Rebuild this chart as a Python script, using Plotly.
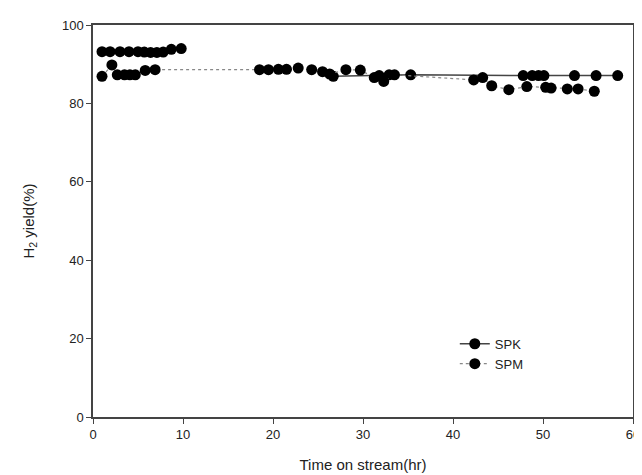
import plotly.graph_objects as go

# SPK (solid) - gap between early and later run
spk_t = [1.0, 1.9, 3.0, 4.0, 5.0, 5.7, 6.4, 7.1, 7.8, 8.7, 9.8, None,
         26.7, 31.8, 32.9, 35.3, 47.8, 48.8, 49.5, 50.1, 53.5, 55.9, 58.3]
spk_y = [93.2, 93.2, 93.2, 93.2, 93.2, 93.1, 93.0, 93.0, 93.1, 93.8, 94.0, None,
         86.9, 87.1, 87.3, 87.3, 87.1, 87.1, 87.1, 87.1, 87.1, 87.1, 87.1]

# SPM (dotted)
spm_t = [1.0, 2.1, 2.7, 3.5, 4.1, 4.7, 5.8, 6.9,
         18.5, 19.5, 20.6, 21.5, 22.8, 24.3, 25.5, 26.3, 28.1, 29.7,
         31.25, 32.3, 33.5, 42.3, 43.3, 44.3, 46.2, 48.2, 50.3, 50.9, 52.7, 53.9, 55.7]
spm_y = [86.9, 89.8, 87.3, 87.3, 87.3, 87.3, 88.4, 88.6,
         88.6, 88.6, 88.7, 88.7, 89.0, 88.6, 88.1, 87.5, 88.6, 88.5,
         86.6, 85.6, 87.3, 86.0, 86.6, 84.5, 83.5, 84.3, 84.1, 83.9, 83.7, 83.7, 83.1]

fig = go.Figure()
fig.add_trace(go.Scatter(x=spk_t, y=spk_y, name="SPK", mode="lines+markers",
                         connectgaps=False,
                         line=dict(color="#444444", width=1.5, dash="solid"),
                         marker=dict(color="black", size=11)))
fig.add_trace(go.Scatter(x=spm_t, y=spm_y, name="SPM", mode="lines+markers",
                         line=dict(color="#888888", width=1.2, dash="dot"),
                         marker=dict(color="black", size=11)))

axis_style = dict(showline=True, mirror=True, linecolor="#444444", linewidth=1.5,
                  ticks="outside", ticklen=5, tickcolor="#444444", showgrid=False,
                  zeroline=False, tickfont=dict(size=13, color="#222222"))

fig.update_layout(
    width=642, height=475,
    margin=dict(l=85, r=10, t=15, b=66),
    paper_bgcolor="white", plot_bgcolor="white",
    font=dict(family="Liberation Sans, Arial, sans-serif", color="#222222"),
    showlegend=True,
    legend=dict(x=0.67, y=0.225, xanchor="left", yanchor="top",
                bgcolor="rgba(0,0,0,0)", font=dict(size=13)),
    xaxis=dict(range=[0, 60], dtick=10,
               title=dict(text="Time on stream(hr)", font=dict(size=15), standoff=18),
               **axis_style),
    yaxis=dict(range=[0, 100], dtick=20,
               title=dict(text="H<sub>2</sub> yield(%)", font=dict(size=15), standoff=24),
               **axis_style),
)

fig.write_html("out.html")
